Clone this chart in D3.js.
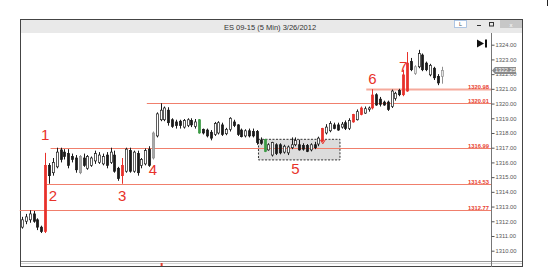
<!DOCTYPE html>
<html>
<head>
<meta charset="utf-8">
<script src="https://cdn.jsdelivr.net/npm/d3@7"></script>
<style>
  body { margin: 0; background: #fff; }
  svg { display: block; font-family: "Liberation Sans", Arial, sans-serif; }
</style>
</head>
<body>
<div id="chart"></div>
<script>
// Chart data
const title = "ES 09-15 (5 Min) 3/26/2012";

const open = [1311.6,1312.0,1312.1,1312.5,1312.1,1311.6,1311.3,1315.8,1315.3,1315.7,
  1316.85,1316.7,1316.6,1316.4,1316.3,1315.3,1316.3,1315.6,1315.8,1316.1,
  1316.0,1315.9,1316.5,1316.0,1316.5,1315.6,1315.1,1315.4,1316.8,1315.4,
  1316.6,1315.8,1315.9,1316.9,1316.3,1317.8,1318.9,1318.9,1319.55,1318.9,
  1318.75,1318.8,1318.4,1318.5,1318.85,1318.45,1318.9,1318.25,1318.2,1318.05,
  1317.9,1318.0,1318.55,1317.95,1318.25,1318.75,1318.55,1318.2,1317.8,1318.15,
  1318.1,1318.1,1317.5,1317.55,1316.85,1316.5,1317.2,1317.2,1316.7,1316.65,
  1317.0,1317.2,1317.2,1317.15,1317.15,1316.85,1317.2,1317.25,1317.45,1318.0,
  1318.15,1318.55,1318.55,1318.4,1318.7,1318.3,1318.75,1318.9,1319.25,1319.35,
  1319.6,1319.7,1320.6,1320.3,1320.1,1320.1,1319.8,1320.35,1320.9,1320.6,
  1320.85,1322.85,1322.05,1322.5,1323.3,1322.75,1321.95,1322.4,1321.85,1321.85];
const high = [1312.3,1312.5,1312.75,1312.7,1312.2,1311.7,1316.65,1315.95,1316.3,1317.0,
  1317.0,1316.9,1316.9,1316.6,1316.5,1316.5,1316.6,1316.5,1316.4,1316.8,
  1316.7,1316.6,1316.7,1317.0,1316.8,1315.7,1316.3,1317.0,1317.0,1316.8,
  1316.8,1316.3,1316.95,1317.1,1318.1,1319.4,1320.02,1319.8,1319.75,1319.0,
  1318.9,1318.9,1318.95,1319.0,1319.0,1318.95,1318.95,1318.3,1318.3,1318.2,
  1318.75,1318.8,1318.7,1318.35,1319.07,1318.9,1318.6,1318.3,1318.25,1318.3,
  1318.3,1318.2,1317.7,1317.6,1317.3,1317.4,1317.3,1317.3,1317.2,1317.15,
  1317.7,1317.7,1317.55,1317.3,1317.25,1317.3,1317.4,1317.75,1318.35,1318.6,
  1318.8,1318.7,1318.7,1318.75,1318.85,1319.0,1319.3,1319.6,1319.8,1319.8,
  1319.8,1320.98,1320.7,1320.45,1320.2,1320.2,1320.95,1320.8,1321.0,1322.3,
  1323.5,1323.1,1322.6,1323.65,1323.4,1322.85,1322.7,1322.5,1322.0,1322.5];
const low = [1311.5,1311.8,1311.9,1311.9,1311.4,1311.2,1311.2,1314.55,1315.1,1315.6,
  1316.0,1316.2,1315.6,1316.0,1315.3,1315.2,1315.7,1315.5,1315.7,1315.9,
  1315.9,1315.8,1315.6,1315.9,1315.3,1314.75,1314.55,1315.3,1315.3,1315.3,
  1315.1,1315.6,1315.8,1315.7,1316.2,1317.7,1318.8,1318.8,1318.5,1318.35,
  1318.3,1318.3,1318.3,1318.4,1318.4,1318.3,1317.95,1317.9,1317.7,1317.5,
  1317.8,1317.9,1317.8,1317.85,1318.1,1318.4,1317.8,1317.7,1317.7,1317.7,
  1317.7,1317.2,1317.2,1316.7,1316.8,1316.4,1316.5,1316.55,1316.6,1316.5,
  1316.9,1317.1,1316.8,1316.8,1316.7,1316.75,1316.9,1317.1,1317.4,1317.9,
  1318.05,1318.25,1318.15,1318.3,1318.2,1318.2,1318.7,1318.85,1319.2,1319.3,
  1319.45,1319.6,1319.85,1319.8,1319.85,1319.5,1319.7,1320.2,1320.5,1320.5,
  1320.8,1322.2,1321.95,1322.4,1322.2,1322.2,1321.85,1321.6,1321.25,1321.35];
const close = [1312.1,1312.3,1312.5,1312.0,1311.6,1311.3,1315.8,1315.1,1316.0,1316.7,
  1316.2,1316.4,1315.8,1316.2,1315.5,1316.4,1315.8,1316.4,1316.3,1316.6,
  1316.5,1316.4,1315.8,1316.7,1315.4,1314.9,1315.8,1316.9,1315.4,1316.7,
  1315.3,1316.2,1316.8,1315.8,1318.0,1319.3,1319.55,1319.7,1318.7,1318.45,
  1318.5,1318.5,1318.85,1318.9,1318.55,1318.75,1318.0,1318.0,1317.8,1317.65,
  1318.65,1318.7,1317.9,1318.25,1319.0,1318.5,1317.9,1317.75,1318.15,1317.8,
  1317.8,1317.35,1317.3,1316.75,1317.2,1317.35,1316.6,1316.65,1317.1,1317.05,
  1317.2,1317.5,1316.85,1316.9,1316.75,1317.2,1317.0,1317.65,1318.3,1318.4,
  1318.65,1318.3,1318.2,1318.6,1318.3,1318.85,1319.25,1319.45,1319.7,1319.65,
  1319.7,1320.58,1319.9,1319.95,1319.9,1319.6,1320.85,1320.7,1320.6,1321.95,
  1322.75,1322.3,1322.5,1323.4,1322.3,1322.3,1322.6,1321.75,1321.4,1322.25];

// highlighted bars: r = red signal, g = green, s = grey
const signalIdx  = [6, 15, 26, 34, 46, 63, 78, 86, 88, 91, 99, 100, 102, 109];
const signalType = ["r","s","r","s","g","g","r","r","r","r","r","r","s","s"];

// price levels drawn across the chart
const levels     = [1320.98, 1320.01, 1316.99, 1314.53, 1312.77];
const levelStart = [90, 33, 8, 7, 0];

// numbered annotations
const annoText  = ["1","2","3","4","5","6","7"];
const annoIdx   = [6, 8, 26, 34, 71, 91, 99];
const annoPrice = [1317.49, 1313.35, 1313.35, 1315.12, 1315.23, 1321.35, 1322.15];

// consolidation box (5)
const boxIdx   = [62, 82];
const boxPrice = [1316.17, 1317.57];

const priceTicks = d3.range(1310, 1325, 1);
const lastPrice = 1322.25;

const W = 552, H = 276;
const svg = d3.select("#chart").append("svg")
  .attr("width", W).attr("height", H);

const n = open.length;
const x = d3.scaleBand()
  .domain(d3.range(n))
  .range([20.1, 443.6])
  .paddingInner(0.35)
  .paddingOuter(0.175);
const y = d3.scaleLinear()
  .domain([1310, 1324])
  .range([250.7, 44.7]);
const bw = x.bandwidth();
const cx = i => x(i) + bw / 2;

// window chrome
svg.append("rect").attr("x", 20.5).attr("y", 19.5).attr("width", 502).attr("height", 247)
  .attr("fill", "#fff").attr("stroke", "#444");
svg.append("rect").attr("x", 21).attr("y", 20).attr("width", 501).attr("height", 13)
  .attr("fill", "#e9e9e9");
svg.append("text").attr("x", 270).attr("y", 29.5).attr("text-anchor", "middle")
  .style("font-size", "7.5px").attr("fill", "#333").text(title);
svg.append("rect").attr("x", 454.5).attr("y", 20.5).attr("width", 12).attr("height", 7)
  .attr("fill", "#fff").attr("stroke", "#9dbbe0").attr("stroke-width", 0.8);
svg.append("text").attr("x", 460.5).attr("y", 26.2).attr("text-anchor", "middle")
  .style("font-size", "5.5px").attr("fill", "#555").text("L");
svg.append("rect").attr("x", 477).attr("y", 25).attr("width", 4).attr("height", 1).attr("fill", "#333");
svg.append("rect").attr("x", 489.5).attr("y", 22.5).attr("width", 4).attr("height", 3.5)
  .attr("fill", "none").attr("stroke", "#333");
svg.append("rect").attr("x", 500).attr("y", 20).attr("width", 22).attr("height", 8).attr("fill", "#c7c7c7");
svg.append("text").attr("x", 511).attr("y", 26.5).attr("text-anchor", "middle")
  .style("font-size", "6px").attr("fill", "#fff").text("x");
svg.append("rect").attr("x", 547).attr("y", 0).attr("width", 1).attr("height", 6).attr("fill", "#222");

// bottom strip
svg.append("line").attr("x1", 21).attr("x2", 522).attr("y1", 261.5).attr("y2", 261.5).attr("stroke", "#999");
svg.append("line").attr("x1", 21).attr("x2", 522).attr("y1", 263.5).attr("y2", 263.5).attr("stroke", "#d4d4d4");
svg.append("rect").attr("x", cx(36)).attr("y", 263).attr("width", 2).attr("height", 3).attr("fill", "#e53b2e");

// price axis
svg.append("line").attr("x1", 491.5).attr("x2", 491.5).attr("y1", 33).attr("y2", 267).attr("stroke", "#777");
const axis = svg.append("g")
  .attr("transform", "translate(491.5,0)")
  .call(d3.axisRight(y).tickValues(priceTicks).tickFormat(d3.format(".2f")).tickSize(3).tickPadding(1));
axis.select(".domain").remove();
axis.selectAll("line").attr("stroke", "#555");
axis.selectAll("text").style("font-size", "5.8px").attr("fill", "#555").style("font-family", "Liberation Sans, Arial");

// consolidation box
svg.append("rect")
  .attr("x", x(boxIdx[0]) - 1)
  .attr("y", y(boxPrice[1]))
  .attr("width", x(boxIdx[1]) + bw + 1 - x(boxIdx[0]) + 1)
  .attr("height", y(boxPrice[0]) - y(boxPrice[1]))
  .attr("fill", "#dcdcdc").attr("stroke", "#333").attr("stroke-dasharray", "2,1.5");

// level lines
svg.selectAll(".lvl").data(levels).enter().append("line")
  .attr("x1", (d, i) => x(levelStart[i]) - 1)
  .attr("x2", 491)
  .attr("y1", d => Math.round(y(d)) + 0.5)
  .attr("y2", d => Math.round(y(d)) + 0.5)
  .attr("stroke", (d, i) => i === 0 ? "#f6aa9c" : "#f07f6c")
  .attr("stroke-width", (d, i) => i === 0 ? 2 : 1);
svg.selectAll(".lvlTxt").data(levels).enter().append("text")
  .attr("x", 489).attr("y", d => Math.round(y(d)) - 0.5)
  .attr("text-anchor", "end")
  .style("font-size", "5.8px").style("font-weight", "bold")
  .attr("fill", "#e8412f")
  .text(d => d.toFixed(2));

// candles
const candles = d3.range(n).map(i => {
  const k = signalIdx.indexOf(i);
  return { i, o: open[i], h: high[i], l: low[i], c: close[i], t: k >= 0 ? signalType[k] : null };
});
const colorOf = d => d.t === "r" ? "#e8302a" : d.t === "g" ? "#3c9a45" : d.t === "s" ? "#8f8f8f" : "#1a1a1a";

const g = svg.append("g");
g.selectAll(".wick").data(candles).enter().append("line")
  .attr("x1", d => Math.round(cx(d.i)) + 0.5)
  .attr("x2", d => Math.round(cx(d.i)) + 0.5)
  .attr("y1", d => y(d.h)).attr("y2", d => y(d.l))
  .attr("stroke", colorOf).attr("stroke-width", 1);
g.selectAll(".body").data(candles).enter().append("rect")
  .attr("x", d => Math.round(cx(d.i)) - 0.6)
  .attr("y", d => y(Math.max(d.o, d.c)))
  .attr("width", 2.2)
  .attr("height", d => Math.max(1, Math.abs(y(d.o) - y(d.c))))
  .attr("fill", d => {
    if (d.t === "r" || d.t === "g") return colorOf(d);
    if (d.t === "s") return d.c > d.o && d.i > 100 ? "#e6e6e6" : "#a9a9a9";
    return d.c >= d.o ? "#fff" : "#1a1a1a";
  })
  .attr("stroke", d => d.t === "r" || d.t === "g" ? colorOf(d) : colorOf(d))
  .attr("stroke-width", 0.7);

// arrow head on the red bar above the box
const ai = 78;
svg.append("path")
  .attr("d", `M${cx(ai) - 2},${y(low[ai]) - 2} L${cx(ai) + 0.5},${y(low[ai]) + 2} L${cx(ai) + 3},${y(low[ai]) - 2}`)
  .attr("fill", "none").attr("stroke", "#e8302a").attr("stroke-width", 1);

// numbered annotations
svg.selectAll(".anno").data(annoText).enter().append("text")
  .attr("x", (d, i) => cx(annoIdx[i]))
  .attr("y", (d, i) => y(annoPrice[i]))
  .attr("text-anchor", "middle")
  .style("font-size", "15px")
  .attr("fill", "#e8322a")
  .text(d => d);

// last price tag (covers the axis label underneath, as in the platform)
const ly = y(lastPrice);
svg.append("path")
  .attr("d", `M492,${ly} L495,${ly - 3.5} L516,${ly - 3.5} L516,${ly + 3.5} L495,${ly + 3.5} Z`)
  .attr("fill", "#8a8a8a");
svg.append("text").attr("x", 505.5).attr("y", ly + 2).attr("text-anchor", "middle")
  .style("font-size", "5.8px").attr("fill", "#fff").text(lastPrice.toFixed(2));

// scroll-to-end button
svg.append("path").attr("d", "M477,39.5 L484,43.5 L477,47.5 Z").attr("fill", "#111");
svg.append("rect").attr("x", 485).attr("y", 39.5).attr("width", 2).attr("height", 8).attr("fill", "#111");
</script>
</body>
</html>
